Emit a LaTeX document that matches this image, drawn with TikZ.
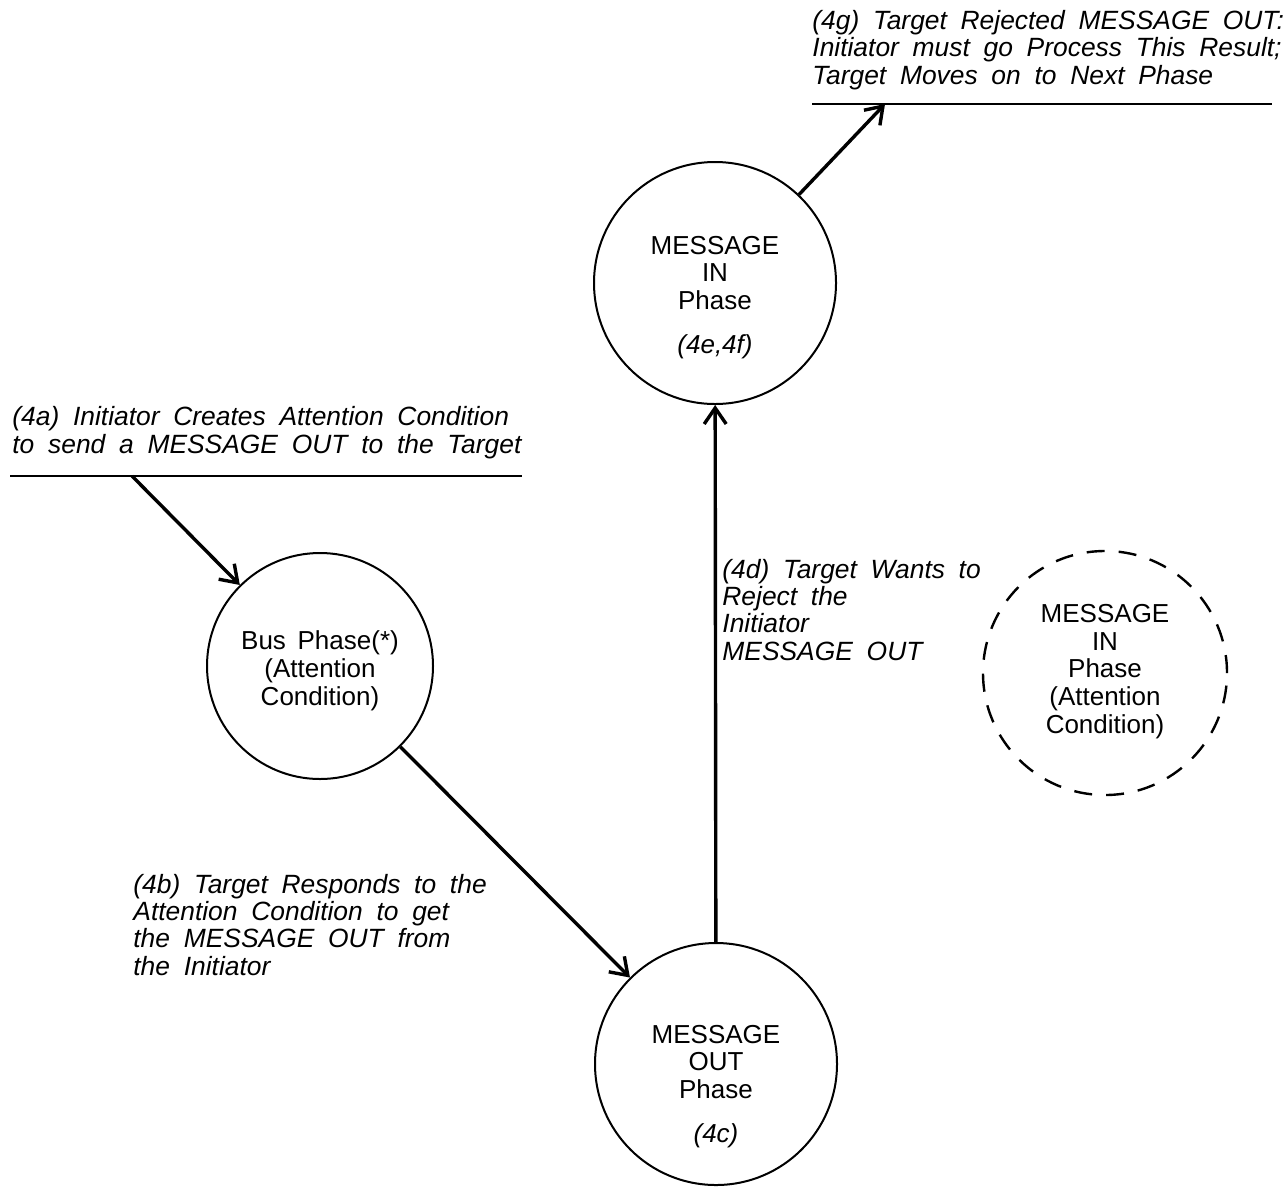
\documentclass[tikz,border=0pt]{standalone}
\usepackage{fontspec}
\setmainfont{Liberation Sans}
\usetikzlibrary{arrows.meta}
\newcommand{\wordgap}{\spaceskip=0.52em plus 0.1em\relax}
\begin{document}
\begin{tikzpicture}[x=0.5pt,y=-0.5pt,
  phase/.style={circle,draw,line width=1pt,minimum size=121pt,inner sep=0pt},
  attn/.style={circle,draw,dash pattern=on 9pt off 7pt,line width=1.2pt,minimum size=122pt,inner sep=0pt},
  ctext/.style={align=center,inner sep=0pt,anchor=base,font=\fontsize{13}{13.8}\selectfont},
  note/.style={align=left,inner sep=0pt,anchor=base west,
    font=\fontsize{13.2}{13.6}\selectfont\itshape,
    execute at begin node=\wordgap},
  rule/.style={line width=1.3pt},
  flow/.style={line width=1.7pt,-{Straight Barb[length=8pt,width=11pt,line width=1.7pt]}}]
\useasboundingbox[fill=white] (0,0) rectangle (1288,1189);

% phase circles
\node[phase] (min)  at (715,283)  {};
\node[phase,minimum size=113pt] (bus) at (320,666) {};
\node[phase] (mout) at (716,1064) {};
\node[attn]  (matt) at (1105,673) {};

% circle captions (anchored on the baseline of their last line)
\node[ctext] (mintxt) at (715,353)
  {MESSAGE\\IN\\Phase\\[8pt]\textit{(4e,4f)}};
\node[ctext] (bustxt) at (320,705)
  {Bus\hspace{0.45em}Phase(*)\\(Attention\\Condition)};
\node[ctext] (mouttxt) at (716,1142)
  {MESSAGE\\OUT\\Phase\\[8pt]\textit{(4c)}};
\node[ctext] (matttxt) at (1105,733)
  {MESSAGE\\IN\\Phase\\(Attention\\Condition)};

% entry and exit rules
\coordinate (ruleAL) at (10,476);
\coordinate (ruleAR) at (522,476);
\coordinate (ruleGL) at (812,104);
\coordinate (ruleGR) at (1272,104);
\draw[rule] (ruleAL) -- (ruleAR);
\draw[rule] (ruleGL) -- (ruleGR);
\coordinate (entry) at (132,476);
\coordinate (exit)  at (885,104);

% transitions
\draw[flow] (entry) -- (bus);
\draw[flow] (bus) -- (mout);
\draw[flow] (mout) -- (min);
\draw[flow] (min) -- (exit);

% transition notes (anchored on the baseline of their last line)
\node[note] (n4g) at (812,84)
  {(4g) Target Rejected MESSAGE OUT:\\Initiator must go Process This Result;\\Target Moves on to Next Phase};
\node[note] (n4a) at (12,453)
  {(4a) Initiator Creates Attention Condition\\to send a MESSAGE OUT to the Target};
\node[note] (n4d) at (722,660)
  {(4d) Target Wants to\\Reject the\\Initiator\\MESSAGE OUT};
\node[note] (n4b) at (133,975)
  {(4b) Target Responds to the\\Attention Condition to get\\the MESSAGE OUT from\\the Initiator};
\end{tikzpicture}
\end{document}
